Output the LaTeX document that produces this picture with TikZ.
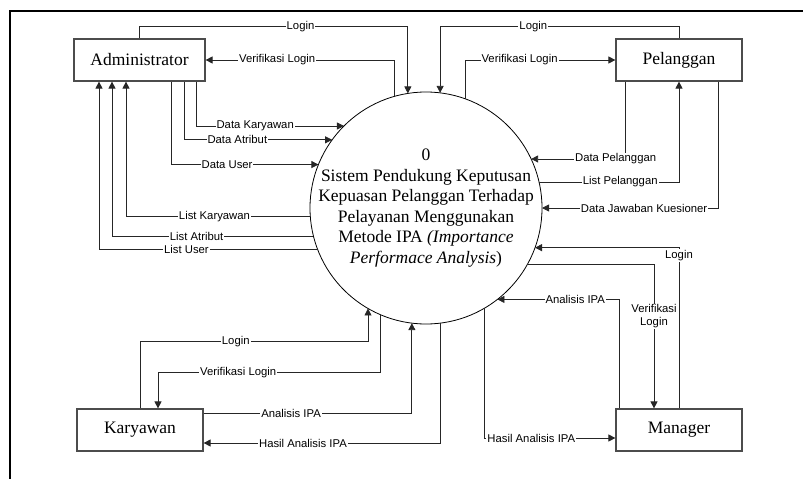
\documentclass[tikz,border=0pt]{standalone}
\usepackage{fontspec}
\setmainfont{Liberation Serif}
\setsansfont{Liberation Sans}
\usetikzlibrary{arrows.meta}
\begin{document}
\begin{tikzpicture}[x=1pt,y=-1pt,
  entity/.style={draw=black!70, line width=1.2pt, minimum width=126pt, minimum height=42pt,
    inner sep=0pt, font=\fontsize{17.5}{20}\selectfont},
  process/.style={circle, draw, line width=0.8pt, minimum size=232pt, inner sep=0pt, outer sep=0pt},
  flow/.style={draw=black!85, line width=0.8pt, -{Triangle[length=7pt,width=7pt]}},
  lbl/.style={fill=white, inner sep=1pt, font=\sffamily\fontsize{11.3}{12.5}\selectfont}]
\useasboundingbox (0,0) rectangle (803,479);
% page frame
\draw[line width=2pt] (10,479) -- (10,11) -- (803,11);

% process and external entities
\node[process] (c) at (426,208) {};
\node[align=center, font=\fontsize{17.5}{20.6}\selectfont] (ctext) at (c.center)
  {0\\Sistem Pendukung Keputusan\\Kepuasan Pelanggan Terhadap\\Pelayanan Menggunakan\\Metode IPA \textit{(Importance}\\\textit{Performace Analysis})};
\node[entity, minimum width=131pt] (adm) at (139.5,60) {Administrator};
\node[entity] (pel) at (679,60) {Pelanggan};
\node[entity] (kar) at (140,430) {Karyawan};
\node[entity] (mgr) at (679,430) {Manager};

% Administrator flows
\draw[flow] (adm.north) -- ([yshift=12pt]adm.north) -| (c.99.4) node[lbl,pos=0.3] {Login};
\draw[flow] (c.106) |- (adm.east) node[lbl,pos=0.81] {Verifikasi Login};
\draw[flow] ([xshift=56.5pt]adm.south) |- (c.135) node[lbl,pos=0.7] {Data Karyawan};
\draw[flow] ([xshift=44.5pt]adm.south) |- (c.144.7) node[lbl,pos=0.68] {Data Atribut};
\draw[flow] ([xshift=31.5pt]adm.south) |- (c.158.2) node[lbl,pos=0.69] {Data User};
\draw[flow] (c.184.4) -| ([xshift=-13.5pt]adm.south) node[lbl,pos=0.26] {List Karyawan};
\draw[flow] (c.194.5) -| ([xshift=-27.5pt]adm.south) node[lbl,pos=0.29] {List Atribut};
\draw[flow] (c.201.2) -| ([xshift=-40.5pt]adm.south) node[lbl,pos=0.3] {List User};

% Pelanggan flows
\draw[flow] (pel.north) -- ([yshift=12pt]pel.north) -| (c.83.07) node[lbl,pos=0.305] {Login};
\draw[flow] (c.70.35) |- (pel.west) node[lbl,pos=0.68] {Verifikasi Login};
\draw[flow] ([xshift=-54pt]pel.south) |- (c.25) node[lbl,pos=0.55] {Data Pelanggan};
\draw[flow] (c.13.97) -| (pel.south) node[lbl,pos=0.29] {List Pelanggan};
\draw[flow] ([xshift=39pt]pel.south) |- (c.0.5) node[lbl,pos=0.71] {Data Jawaban Kuesioner};

% Manager flows
\draw[flow] (mgr.north) |- (c.340.35) node[lbl,pos=0.475] {Login};
\draw[flow] (c.331.1) -| ([xshift=-25pt]mgr.north) node[lbl,pos=0.68,align=center] {Verifikasi\\Login};
\draw[flow] ([xshift=-60pt]mgr.north) |- (c.308.3) node[lbl,pos=0.68] {Analisis IPA};
\draw[flow] (c.300.6) |- ([yshift=-8pt]mgr.west) node[lbl,pos=0.68] {Hasil Analisis IPA};

% Karyawan flows
\draw[flow] (kar.north) -- ([yshift=67pt]kar.north) -| (c.240) node[lbl,pos=0.21] {Login};
\draw[flow] (c.247.7) |- ([xshift=18pt,yshift=36pt]kar.north) node[lbl,pos=0.82] {Verifikasi Login}
  -- ([xshift=18pt]kar.north);
\draw[flow] ([yshift=17pt]kar.east) -| (c.263.6) node[lbl,pos=0.21] {Analisis IPA};
\draw[flow] (c.277.4) |- ([yshift=-13pt]kar.east) node[lbl,pos=0.79] {Hasil Analisis IPA};
\end{tikzpicture}
\end{document}
